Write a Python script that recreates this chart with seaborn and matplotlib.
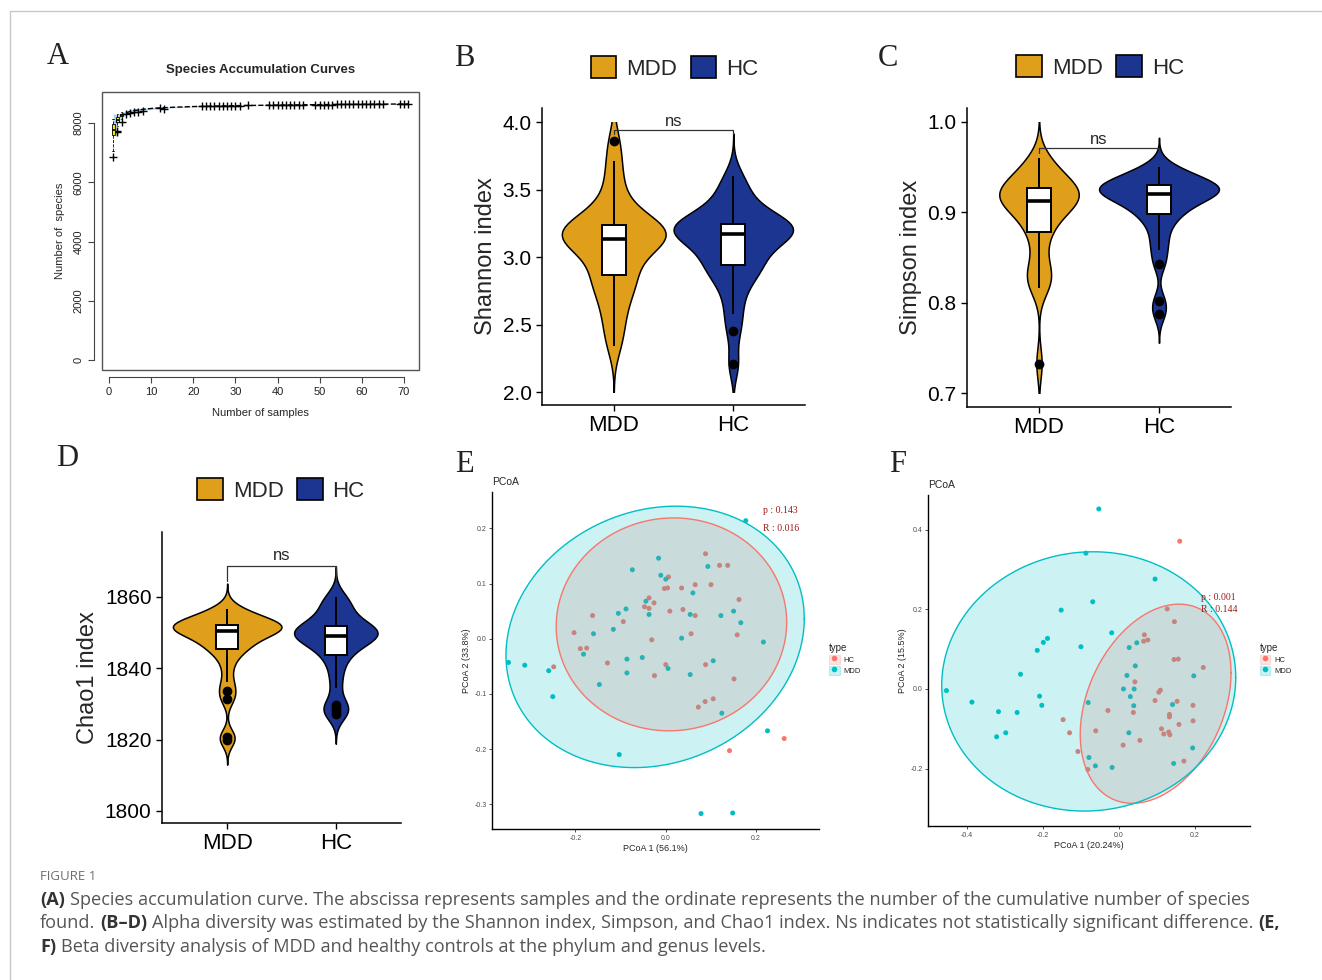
import numpy as np
import pandas as pd
import seaborn as sns
import matplotlib
matplotlib.use('Agg')
import matplotlib.pyplot as plt
from matplotlib.patches import Patch, Rectangle
from matplotlib.lines import Line2D

W, H = 1322, 980

# ---------------- data ----------------
# A: species accumulation
acc_x = [1, 2, 3, 4, 5, 6, 8, 10, 12, 15, 20, 30, 40, 50, 60, 71]
acc_mean = [7780, 8110, 8260, 8340, 8390, 8420, 8460, 8490, 8510, 8530, 8555, 8585, 8605, 8620, 8632, 8642]
acc_lo = [7560, 7980, 8170, 8270, 8330, 8370, 8420, 8460, 8485, 8510, 8540, 8575, 8598, 8615, 8628, 8640]
acc_hi = [8320, 8280, 8360, 8410, 8450, 8470, 8500, 8520, 8535, 8550, 8570, 8595, 8612, 8625, 8636, 8644]
box_x = [1, 2, 3]
box_q1 = [7600, 8040, 8230]
box_med = [7780, 8110, 8265]
box_q3 = [7960, 8190, 8300]
box_lo = [7050, 7900, 8150]
box_hi = [8150, 8300, 8360]
plus_x = [1, 2, 2, 3, 4, 5, 6, 7, 8, 12, 13, 22, 23, 24, 25, 26, 27, 28, 29, 30, 31, 33,
          38, 39, 40, 41, 42, 43, 44, 45, 46, 49, 50, 51, 52, 53, 54, 55, 56, 57, 58, 59,
          60, 61, 62, 63, 64, 65, 69, 70, 71]
plus_y = [6840, 7690, 7720, 8020, 8300, 8350, 8380, 8380, 8420, 8490, 8480, 8560, 8565, 8565, 8570,
          8570, 8570, 8575, 8575, 8580, 8580, 8600, 8600, 8600, 8605, 8605, 8605, 8605, 8610,
          8610, 8610, 8620, 8620, 8620, 8620, 8620, 8625, 8625, 8625, 8625, 8625, 8630, 8630,
          8630, 8630, 8630, 8630, 8630, 8640, 8640, 8640]

groups = ['MDD', 'HC']
group_colors = {'MDD': '#E09F1B', 'HC': '#1C3590'}

# B: Shannon index
shannon_mdd = [2.34, 2.45, 2.56, 2.64, 2.72, 2.78, 2.83, 2.86, 2.88, 2.95, 3.02, 3.07, 3.10, 3.11, 3.12,
               3.13, 3.15, 3.17, 3.18, 3.19, 3.20, 3.21, 3.23, 3.25, 3.27, 3.31, 3.38, 3.47, 3.58, 3.71, 3.86]
shannon_hc = [2.21, 2.45, 2.58, 2.70, 2.80, 2.86, 2.90, 2.93, 2.96, 3.00, 3.04, 3.08, 3.11, 3.14, 3.16,
              3.18, 3.19, 3.20, 3.21, 3.22, 3.23, 3.24, 3.25, 3.27, 3.30, 3.34, 3.39, 3.45, 3.52, 3.60]
# C: Simpson index
simpson_mdd = [0.733, 0.816, 0.822, 0.828, 0.834, 0.842, 0.860, 0.876, 0.880, 0.889, 0.896, 0.901, 0.905,
               0.908, 0.910, 0.912, 0.914, 0.916, 0.918, 0.920, 0.922, 0.924, 0.926, 0.928, 0.930, 0.933,
               0.937, 0.942, 0.948, 0.954, 0.960]
simpson_hc = [0.788, 0.802, 0.843, 0.858, 0.870, 0.882, 0.891, 0.897, 0.901, 0.905, 0.909, 0.912, 0.915,
              0.917, 0.919, 0.921, 0.923, 0.924, 0.925, 0.926, 0.927, 0.928, 0.930, 0.932, 0.934, 0.936,
              0.939, 0.942, 0.946, 0.950]
# D: Chao1 index
chao_mdd = [1820.0, 1820.8, 1831.3, 1833.5, 1836.2, 1840.5, 1843.5, 1845.2, 1845.8, 1846.6, 1847.5,
            1848.4, 1849.2, 1849.8, 1850.2, 1850.6, 1850.9, 1851.2, 1851.5, 1851.7, 1851.9, 1852.1,
            1852.3, 1852.6, 1853.0, 1853.5, 1854.2, 1855.0, 1855.8, 1856.7]
chao_hc = [1827.3, 1828.0, 1828.8, 1829.6, 1834.5, 1838.0, 1841.0, 1843.3, 1844.4, 1845.7, 1846.8,
           1847.6, 1848.2, 1848.7, 1849.0, 1849.3, 1849.6, 1849.9, 1850.2, 1850.6, 1851.0, 1851.5,
           1852.0, 1852.7, 1853.6, 1855.0, 1856.5, 1858.0, 1859.0, 1860.0]

# E: PCoA phylum
e_mdd_x = [0.177, -0.016, -0.074, -0.011, 0.0, 0.093, 0.060, -0.044, -0.088, -0.105, -0.037, 0.054,
           0.122, 0.150, 0.166, -0.116, -0.160, 0.035, 0.216, -0.182, -0.086, -0.052, 0.005, -0.086,
           0.054, 0.105, -0.147, -0.348, -0.312, -0.259, -0.250, 0.124, 0.225, -0.103, 0.078, 0.148]
e_mdd_y = [0.214, 0.146, 0.125, 0.115, 0.108, 0.131, 0.083, 0.068, 0.054, 0.046, 0.044, 0.044,
           0.042, 0.050, 0.029, 0.017, 0.009, 0.001, -0.006, -0.028, -0.037, -0.034, -0.054, -0.062,
           -0.065, -0.040, -0.083, -0.043, -0.048, -0.058, -0.105, -0.135, -0.167, -0.210, -0.317, -0.316]
e_hc_x = [0.088, 0.119, 0.137, 0.006, -0.003, 0.004, 0.035, 0.065, 0.100, -0.037, -0.026, -0.047,
          -0.037, 0.009, 0.038, 0.065, 0.162, -0.162, -0.094, -0.203, 0.056, 0.158, -0.031, -0.189,
          -0.175, -0.129, 0.0, 0.088, -0.025, 0.151, -0.248, 0.105, 0.087, 0.072, 0.141, 0.262]
e_hc_y = [0.154, 0.133, 0.133, 0.112, 0.091, 0.092, 0.092, 0.098, 0.098, 0.074, 0.065, 0.058,
          0.055, 0.050, 0.053, 0.042, 0.071, 0.042, 0.031, 0.011, 0.009, 0.007, -0.002, -0.018,
          -0.017, -0.044, -0.047, -0.047, -0.067, -0.073, -0.051, -0.109, -0.114, -0.124, -0.203, -0.181]
# ellipse: centre x, centre y, half width, half height, correlation
e_ell = {'HC': (0.0125, 0.026, 0.255, 0.193, 0.02), 'MDD': (-0.0236, 0.0033, 0.330, 0.237, 0.14)}

# F: PCoA genus
f_mdd_x = [-0.053, -0.087, 0.095, -0.069, -0.152, -0.019, -0.188, -0.199, -0.215, -0.100, 0.027, 0.047,
           0.043, 0.021, -0.259, 0.197, 0.012, 0.040, -0.454, -0.209, 0.030, -0.387, -0.081, -0.203,
           0.039, -0.317, -0.268, 0.141, -0.298, -0.322, 0.026, -0.079, -0.062, -0.018, 0.144, 0.194]
f_mdd_y = [0.452, 0.341, 0.276, 0.219, 0.198, 0.141, 0.127, 0.117, 0.097, 0.106, 0.104, 0.116,
           0.058, 0.034, 0.037, 0.033, 0.0, 0.0, -0.004, -0.018, -0.019, -0.033, -0.034, -0.041,
           -0.042, -0.057, -0.059, -0.039, -0.110, -0.120, -0.110, -0.172, -0.193, -0.197, -0.187, -0.148]
f_hc_x = [0.160, 0.127, 0.146, 0.067, 0.076, 0.065, 0.145, 0.156, 0.222, 0.042, 0.109, 0.105,
          0.095, 0.153, 0.195, -0.029, 0.133, 0.133, 0.038, -0.147, 0.158, 0.195, -0.130, -0.061,
          0.112, 0.118, 0.131, 0.134, 0.055, -0.108, 0.011, -0.082, 0.171]
f_hc_y = [0.371, 0.201, 0.169, 0.136, 0.123, 0.120, 0.074, 0.075, 0.054, 0.018, -0.003, -0.008,
          -0.029, -0.031, -0.041, -0.054, -0.064, -0.070, -0.059, -0.077, -0.089, -0.080, -0.110, -0.105,
          -0.100, -0.113, -0.108, -0.115, -0.129, -0.157, -0.141, -0.202, -0.181]
f_ell = {'HC': (0.0966, -0.037, 0.1985, 0.25, 0.31), 'MDD': (-0.0795, 0.019, 0.387, 0.3255, 0.03)}

type_colors = {'HC': '#F8766D', 'MDD': '#00BFC4'}

# ---------------- style ----------------
sns.set_style('ticks')
plt.rcParams['font.family'] = ['Liberation Sans', 'DejaVu Sans']
plt.rcParams['axes.unicode_minus'] = False

fig = plt.figure(figsize=(W / 100, H / 100), dpi=100)


def add_ax(l, t, r, b):
    return fig.add_axes([l / W, 1 - b / H, (r - l) / W, (b - t) / H])


def nrd0(kde):
    # R's default bandwidth (bw.nrd0), as ggplot's geom_violin uses
    x = kde.dataset[0]
    sd = np.std(x, ddof=1)
    q75, q25 = np.percentile(x, [75, 25])
    h = 0.9 * min(sd, (q75 - q25) / 1.34) * len(x) ** -0.2
    return h / sd


# ---------------- A ----------------
ax = add_ax(102, 92, 419, 370)
ax.fill_between(acc_x, acc_lo, acc_hi, color='#A9D7EE', lw=0)
sns.lineplot(x=acc_x, y=acc_mean, ax=ax, color='black', lw=1, linestyle='--')
stats = [dict(med=m, q1=a, q3=b, whislo=lo, whishi=hi, fliers=[])
         for a, m, b, lo, hi in zip(box_q1, box_med, box_q3, box_lo, box_hi)]
ax.bxp(stats, positions=box_x, widths=0.8, patch_artist=True, manage_ticks=False,
       boxprops=dict(facecolor='#F2E600', edgecolor='black', lw=0.6),
       whiskerprops=dict(ls='--', lw=0.6), capprops=dict(lw=0.6),
       medianprops=dict(color='black', lw=1.2))
sns.scatterplot(x=plus_x, y=plus_y, ax=ax, marker='+', color='black', s=26, linewidth=1.0)
ax.set_xlim(-1.66, 73.56)
ax.set_ylim(-337, 9046)
ax.set_xticks(range(0, 71, 10))
ax.set_yticks(range(0, 8001, 2000))
for s in ['top', 'right']:
    ax.spines[s].set_visible(False)
ax.spines['left'].set_position(('outward', 6))
ax.spines['bottom'].set_position(('outward', 5))
ax.spines['left'].set_bounds(0, 8000)
ax.spines['bottom'].set_bounds(0, 70)
for s in ['left', 'bottom']:
    ax.spines[s].set_color('#444444')
    ax.spines[s].set_linewidth(0.8)
ax.add_patch(Rectangle((0, 0), 1, 1, transform=ax.transAxes, fill=False,
                       ec='#555555', lw=1.0, clip_on=False))
ax.tick_params(labelsize=8, length=4, width=0.8, color='#444444', labelcolor='#222222')
ax.tick_params(axis='y', labelrotation=90)
for lab in ax.get_yticklabels():
    lab.set_va('center')
ax.set_xlabel('Number of samples', fontsize=8, labelpad=8)
ax.set_ylabel('Number of  species', fontsize=8, labelpad=6)
ax.set_title('Species Accumulation Curves', fontsize=9.5, fontweight='bold', pad=14)


# ---------------- B, C, D ----------------
def violin_panel(ax, mdd, hc, ylabel, yticks, fmt, ylim, clip, bracket, tip, leg_xy):
    df = pd.DataFrame({'group': ['MDD'] * len(mdd) + ['HC'] * len(hc), 'value': mdd + hc})
    sns.violinplot(data=df, x='group', y='value', hue='group', order=groups, hue_order=groups,
                   palette=group_colors, saturation=1, bw_method=nrd0, cut=3, width=1.0,
                   density_norm='area', common_norm=True, inner=None, linewidth=1.1,
                   linecolor='black', legend=False, ax=ax)
    lo, hi = clip
    for coll in ax.collections:
        coll.set_clip_path(Rectangle((-1, lo), 4, hi - lo, transform=ax.transData))
    sns.boxplot(data=df, x='group', y='value', order=groups, width=0.2, color='white',
                saturation=1, linecolor='black', linewidth=1.4, showcaps=False, fliersize=6,
                flierprops=dict(marker='o', markerfacecolor='black', markeredgecolor='black'),
                medianprops=dict(linewidth=2.6), ax=ax)
    ax.plot([0, 0, 1, 1], [bracket - tip, bracket, bracket, bracket - tip], color='#333333', lw=0.9)
    ax.text(0.5, bracket + tip * 0.25, 'ns', ha='center', va='bottom', fontsize=12)
    ax.set_xlim(-0.6, 1.6)
    ax.set_ylim(*ylim)
    ax.set_yticks(yticks)
    ax.set_yticklabels([fmt.format(v) for v in yticks])
    ax.set_xlabel('')
    ax.set_ylabel(ylabel, fontsize=17)
    sns.despine(ax=ax)
    for s in ['left', 'bottom']:
        ax.spines[s].set_color('black')
        ax.spines[s].set_linewidth(1.1)
    ax.tick_params(axis='y', labelsize=15, length=4, width=1, colors='black')
    ax.tick_params(axis='x', labelsize=16, length=4, width=1, colors='black')
    handles = [Patch(facecolor=group_colors[g], edgecolor='black', linewidth=1.2) for g in groups]
    ax.legend(handles, groups, loc='center', bbox_to_anchor=leg_xy, ncol=2, frameon=False,
              fontsize=16, handlelength=1.15, handleheight=1.15, handletextpad=0.45,
              columnspacing=0.6, borderaxespad=0)


ax = add_ax(542, 108, 805, 405)
violin_panel(ax, shannon_mdd, shannon_hc, 'Shannon index', [2.0, 2.5, 3.0, 3.5, 4.0], '{:.1f}',
             (1.904, 4.104), (2.0, 4.0), 3.94, 0.03, (0.504, 1.135))
ax = add_ax(967, 108, 1231, 407)
violin_panel(ax, simpson_mdd, simpson_hc, 'Simpson index', [0.7, 0.8, 0.9, 1.0], '{:.1f}',
             (0.685, 1.015), (0.7, 1.0), 0.971, 0.006, (0.504, 1.137))
ax = add_ax(162, 532, 401, 823)
violin_panel(ax, chao_mdd, chao_hc, 'Chao1 index', [1800, 1820, 1840, 1860], '{:.0f}',
             (1796.6, 1878.2), (1790, 1890), 1868.6, 4.0, (0.498, 1.144))


# ---------------- E, F ----------------
def pcoa_panel(ax, mdd_x, mdd_y, hc_x, hc_y, ell, xlab, ylab, xlim, ylim, xticks, yticks,
               ptxt, rtxt, txt_xy, r_gap, leg_x):
    df = pd.DataFrame({'x': hc_x + mdd_x, 'y': hc_y + mdd_y,
                       'type': ['HC'] * len(hc_x) + ['MDD'] * len(mdd_x)})
    sns.scatterplot(data=df, x='x', y='y', hue='type', palette=type_colors, s=13,
                    linewidth=0, legend=False, ax=ax)
    t = np.linspace(0, 2 * np.pi, 300)
    for g in ['HC', 'MDD']:
        cx, cy, a, b, rho = ell[g]
        ex = cx + a * np.cos(t)
        ey = cy + b * np.cos(t - np.arccos(rho))
        ax.fill(ex, ey, facecolor=type_colors[g], alpha=0.2, edgecolor='none')
        ax.plot(ex, ey, color=type_colors[g], lw=1.0)
    for txt, dy in [(ptxt, 0), (rtxt, r_gap)]:
        ax.text(txt_xy[0], txt_xy[1] - dy, txt, family='Liberation Serif', color='#9B1B1B',
                fontsize=7, va='center')
    ax.set_xlim(*xlim)
    ax.set_ylim(*ylim)
    ax.set_xticks(xticks)
    ax.set_yticks(yticks)
    ax.set_xticklabels(['{:.1f}'.format(v) for v in xticks])
    ax.set_yticklabels(['{:.1f}'.format(v) for v in yticks])
    sns.despine(ax=ax)
    for s in ['left', 'bottom']:
        ax.spines[s].set_color('black')
        ax.spines[s].set_linewidth(1.0)
    ax.tick_params(labelsize=5, length=2.5, width=0.6, color='#333333', labelcolor='#4D4D4D', pad=1.5)
    ax.set_xlabel(xlab, fontsize=6.5, labelpad=1.5)
    ax.set_ylabel(ylab, fontsize=6.5, labelpad=2)
    ax.set_title('PCoA', loc='left', fontsize=7.5, pad=5)
    handles = [(Patch(facecolor=type_colors[g], alpha=0.2, edgecolor=type_colors[g], lw=0.9),
                Line2D([], [], marker='o', ls='', color=type_colors[g], markersize=3))
               for g in ['HC', 'MDD']]
    leg = ax.legend(handles, ['HC', 'MDD'], title='type', loc='center left',
                    bbox_to_anchor=(leg_x, 0.505), frameon=False, fontsize=5.5,
                    title_fontsize=7, handlelength=1.4, handleheight=1.4, handletextpad=0.5,
                    labelspacing=0.25, borderaxespad=0, borderpad=0)
    leg._legend_box.align = 'left'


ax = add_ax(492, 492, 819, 829)
pcoa_panel(ax, e_mdd_x, e_mdd_y, e_hc_x, e_hc_y, e_ell, 'PCoA 1 (56.1%)', 'PCoA 2 (33.8%)',
           (-0.3845, 0.339), (-0.345, 0.266), [-0.2, 0.0, 0.2],
           [-0.3, -0.2, -0.1, 0.0, 0.1, 0.2], 'p : 0.143', 'R : 0.016', (0.215, 0.232), 0.0315, 1.03)
ax = add_ax(928, 495, 1250, 826)
pcoa_panel(ax, f_mdd_x, f_mdd_y, f_hc_x, f_hc_y, f_ell, 'PCoA 1 (20.24%)', 'PCoA 2 (15.5%)',
           (-0.5026, 0.345), (-0.344, 0.487), [-0.4, -0.2, 0.0, 0.2],
           [-0.2, 0.0, 0.2, 0.4], 'p : 0.001', 'R : 0.144', (0.215, 0.230), 0.030, 1.03)

# ---------------- panel letters ----------------
for lab, x, y in [('A', 58, 56), ('B', 464, 58), ('C', 888, 58),
                  ('D', 67, 459), ('E', 464, 464), ('F', 898, 464)]:
    fig.text(x / W, 1 - y / H, lab, family='Liberation Serif', fontsize=22,
             ha='center', va='center', color='#222222')

# ---------------- caption ----------------
renderer = fig.canvas.get_renderer()
cap_size = 13.05


def space_width(bold):
    w = []
    for s in ['a a', 'aa']:
        t = fig.text(0, 0, s, fontsize=cap_size, family='Open Sans',
                     fontweight='bold' if bold else 'normal')
        w.append(t.get_window_extent(renderer).width)
        t.remove()
    return w[0] - w[1]


sp = space_width(False)


def caption_line(y_px, parts):
    x = 40
    for text, bold, gap in parts:
        if gap:
            x += sp
        t = fig.text(x / W, 1 - y_px / H, text, fontsize=cap_size, family='Open Sans',
                     fontweight='bold' if bold else 'normal',
                     color='#333333' if bold else '#555555', va='center', ha='left')
        x += t.get_window_extent(renderer).width


fig.text(40 / W, 1 - 877 / H, 'FIGURE 1', fontsize=9.5, family='Open Sans',
         color='#6E6E6E', va='center', ha='left')
caption_line(900, [('(A)', True, False),
                   ('Species accumulation curve. The abscissa represents samples and the ordinate '
                    'represents the number of the cumulative number of species', False, True)])
caption_line(923, [('found.', False, False), ('(B\u2013D)', True, True),
                   ('Alpha diversity was estimated by the Shannon index, Simpson, and Chao1 index. '
                    'Ns indicates not statistically significant difference.', False, True),
                   ('(E,', True, True)])
caption_line(947, [('F)', True, False),
                   ('Beta diversity analysis of MDD and healthy controls at the phylum and genus levels.',
                    False, True)])

# frame lines of the figure box
fig.add_artist(Line2D([10 / W, 1], [1 - 11 / H, 1 - 11 / H], transform=fig.transFigure,
                      color='#C8C8C8', lw=1))
fig.add_artist(Line2D([10 / W, 10 / W], [0, 1 - 11 / H], transform=fig.transFigure,
                      color='#C8C8C8', lw=1))

fig.savefig('out.png', dpi=100)
